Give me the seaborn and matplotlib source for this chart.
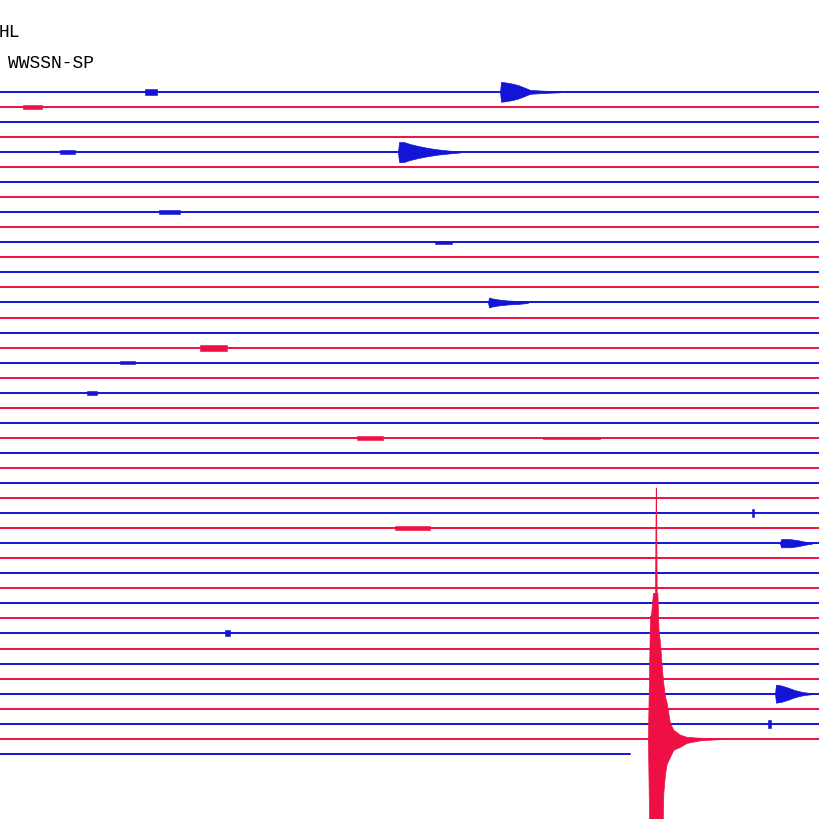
import pandas as pd
import seaborn as sns
import matplotlib.pyplot as plt

# helicorder: 45 traces, 60 min per line, amplitudes in trace-spacing units
n_traces = 45
trace_end = [60.0] * 44 + [46.1]
trace_color = ["blue", "red"]  # alternate per line

# small bursts: trace, start (min), end (min), half amplitude
blob_trace = [0, 1, 4, 8, 10, 17, 18, 20, 23, 23, 29, 36, 42, 28]
blob_start = [10.6, 1.7, 4.4, 11.6, 31.8, 14.6, 8.8, 6.4, 26.1, 39.7, 28.9, 16.5, 56.2, 55.0]
blob_end = [11.5, 3.1, 5.5, 13.2, 33.1, 16.6, 9.9, 7.1, 28.0, 43.9, 31.5, 16.8, 56.4, 55.2]
blob_amp = [0.2, 0.13, 0.13, 0.12, 0.1, 0.2, 0.12, 0.12, 0.13, 0.08, 0.13, 0.2, 0.27, 0.27]

# local events (symmetric envelopes)
ev_a_trace = 0
ev_a_t = [36.59, 36.66, 37.02, 37.46, 37.9, 38.41, 38.78, 39.88, 40.98]
ev_a_amp = [0, 0.66, 0.62, 0.55, 0.45, 0.27, 0.13, 0.07, 0.03]

ev_b_trace = 4
ev_b_t = [29.12, 29.2, 29.56, 30.0, 30.59, 31.32, 32.05, 32.78, 33.66]
ev_b_amp = [0, 0.66, 0.66, 0.53, 0.4, 0.27, 0.17, 0.1, 0.03]

ev_c_trace = 14
ev_c_t = [35.71, 35.78, 36.0, 36.44, 37.17, 37.9, 38.63]
ev_c_amp = [0, 0.33, 0.27, 0.2, 0.13, 0.1, 0.03]

ev_d_trace = 30
ev_d_t = [57.07, 57.15, 57.8, 58.39, 58.9, 59.41]
ev_d_amp = [0, 0.27, 0.27, 0.2, 0.1, 0.03]

ev_e_trace = 40
ev_e_t = [56.71, 56.78, 57.22, 57.66, 58.17, 58.76, 59.41]
ev_e_amp = [0, 0.6, 0.53, 0.4, 0.23, 0.1, 0.03]

# large teleseism on trace 43 (up / down envelopes)
big_trace = 43
big_t = [47.41, 47.56, 47.63, 47.78, 47.93, 47.98, 48.0, 48.05, 48.1, 48.18, 48.29,
         48.42, 48.53, 48.66, 48.78, 49.02, 49.27, 49.76, 50.25, 51.22, 52.68]
big_up = [0, 8.2, 8.2, 9.7, 9.7, 16.7, 16.7, 9.7, 9.7, 7.3, 6.4,
          4.8, 3.7, 2.8, 2.4, 1.06, 0.6, 0.27, 0.13, 0.07, 0.02]
big_dn = [0, 9.3, 9.3, 9.3, 9.3, 9.3, 9.3, 9.3, 9.3, 9.3, 9.3,
          9.3, 3.65, 2.3, 1.66, 1.2, 0.73, 0.53, 0.27, 0.1, 0.02]

palette = {"blue": "#1414d6", "red": "#ee1044"}

rows = []
for k in range(n_traces):
    c = trace_color[k % 2]
    rows.append({"trace": k, "t": 0.0, "y": k, "color": c})
    rows.append({"trace": k, "t": trace_end[k], "y": k, "color": c})
lines_df = pd.DataFrame(rows)

sns.set_theme(style="white")
plt.rcParams["font.family"] = ["Liberation Mono", "DejaVu Sans Mono"]

fig = plt.figure(figsize=(8.2, 8.2), dpi=100)
ax = fig.add_axes([0, 0, 1, 1])

sns.lineplot(data=lines_df, x="t", y="y", hue="color", units="trace", estimator=None,
             palette=palette, linewidth=1.4, legend=False, sort=False, ax=ax)

for k, a, b, amp in zip(blob_trace, blob_start, blob_end, blob_amp):
    col = palette[trace_color[k % 2]]
    ax.fill_between([a, b], [k - amp] * 2, [k + amp] * 2, color=col, lw=0.4, zorder=3)

for k, t, amp in [(ev_a_trace, ev_a_t, ev_a_amp), (ev_b_trace, ev_b_t, ev_b_amp),
                  (ev_c_trace, ev_c_t, ev_c_amp), (ev_d_trace, ev_d_t, ev_d_amp),
                  (ev_e_trace, ev_e_t, ev_e_amp)]:
    col = palette[trace_color[k % 2]]
    ax.fill_between(t, [k - v for v in amp], [k + v for v in amp], color=col, lw=0.5, zorder=3)

col = palette[trace_color[big_trace % 2]]
ax.fill_between(big_t, [big_trace - v for v in big_up], [big_trace + v for v in big_dn],
                color=col, lw=0.5, zorder=4)

ax.set_xlim(0, 60)
ax.set_ylim(48.33, -6.17)
ax.axis("off")

fig.text(-0.002, 0.960, "HL", fontsize=13, va="center", ha="left", color="black")
fig.text(0.0098, 0.922, "WWSSN-SP", fontsize=13, va="center", ha="left", color="black")

fig.savefig("out.png", dpi=100, facecolor="white")
